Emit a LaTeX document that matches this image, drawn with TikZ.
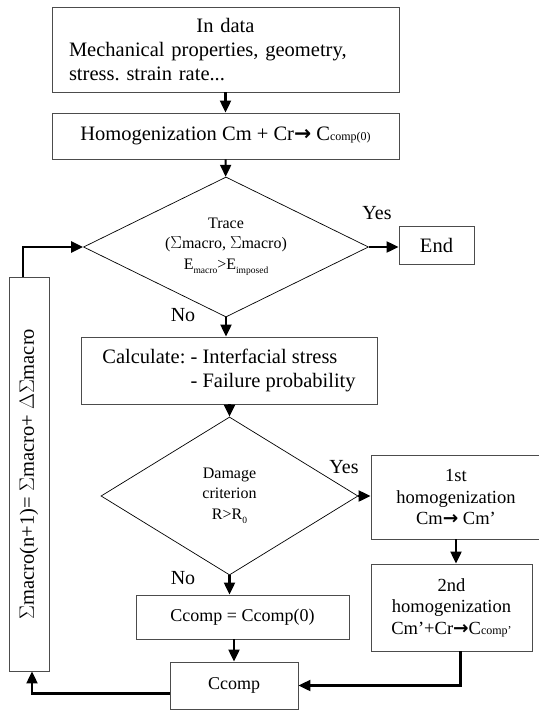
\documentclass[tikz,border=0pt]{standalone}
\usepackage{fontspec}
\setmainfont{Liberation Serif}
\newfontfamily\arwfont{DejaVu Sans}
\usetikzlibrary{shapes.geometric,arrows.meta}
\frenchspacing
\newcommand{\arw}{{\arwfont\bfseries →}}
\newcommand{\lowsub}[1]{\raisebox{-4.5pt}{\fontsize{9.5}{10}\selectfont #1}}
\newcommand{\smallsub}[1]{{\fontsize{12}{12}\selectfont #1}}
\tikzset{
  box/.style={draw=black!70, line width=0.9pt, inner sep=0pt, align=center,
    font=\fontsize{20.5}{24}\selectfont},
  homogbox/.style={box, font=\fontsize{18.5}{21.5}\selectfont},
  decision/.style={diamond, aspect=2, draw, line width=0.7pt, inner sep=0pt, align=center,
    font=\fontsize{16}{20.5}\selectfont},
  answer/.style={font=\fontsize{20}{24}\selectfont},
  flow/.style={line width=2.2pt, -{Triangle[length=12pt,width=11pt]}}
}
\begin{document}
\begin{tikzpicture}[x=1pt,y=-1pt]
        \useasboundingbox (0,0) rectangle (538,711);
        %% main column
        \node[box, minimum width=347pt, minimum height=85pt, text width=313pt, align=left]
            (indata) at (225.5,49.5)
            {\hspace*{\fill}In data\hspace*{\fill}\null\\Mechanical properties, geometry,\\stress. strain rate...};
        \node[box, minimum width=347pt, minimum height=46pt] (homog) at (225.5,136)
            {Homogenization Cm + Cr\arw{} C\smallsub{comp(0)}};
        \node[decision, minimum width=285pt, minimum height=140pt] (trace) at (226,247)
            {Trace\\($\Sigma$macro, $\Sigma$macro)\\E\lowsub{macro}>E\lowsub{imposed}};
        \node[box, minimum width=75pt, minimum height=38pt] (stop) at (436.5,245) {End};
        \node[box, minimum width=296pt, minimum height=67pt] (calc) at (229,370.5)
            {\begin{tabular}{@{}l@{ }l@{}}Calculate: & - Interfacial stress\\ & - Failure probability\end{tabular}};
        \node[decision, minimum width=257pt, minimum height=158pt] (damage) at (229.5,496)
            {Damage\\criterion\\R>R\lowsub{0}};
        %% damage branch
        \node[homogbox, minimum width=170pt, minimum height=84pt] (first) at (456,497)
            {1st\\homogenization\\Cm\arw{} Cm’};
        \node[homogbox, minimum width=161pt, minimum height=87pt] (second) at (451.5,607.5)
            {2nd\\homogenization\\Cm’+Cr\arw{}C\smallsub{comp’}};
        %% no damage
        \node[box, minimum width=213pt, minimum height=44pt, font=\fontsize{18}{21}\selectfont]
            (keep) at (242.5,617) {Ccomp = Ccomp(0)};
        \node[box, minimum width=128pt, minimum height=47pt, font=\fontsize{18}{21}\selectfont]
            (ccomp) at (234,685.5) {Ccomp};
        %% loop back
        \node[box, minimum width=40pt, minimum height=394pt] (update) at (29,474)
            {\rotatebox{90}{$\Sigma$macro(n+1)= $\Sigma$macro+ $\Delta\Sigma$macro}};
        %% labels
        \node[answer] (yes1) at (377,213) {Yes};
        \node[answer] (no1) at (183,315) {No};
        \node[answer] (yes2) at (344,467) {Yes};
        \node[answer] (no2) at (183,578) {No};
        %% connectors
        \draw[flow] (indata) -- (homog);
        \draw[flow] (homog) -- (trace);
        \draw[flow] (trace.east) -- (stop.west |- trace.east);
        \draw[flow] (trace.south) -- (trace.south |- calc.north);
        \draw[flow] (calc.south -| damage.north) -- (damage.north);
        \draw[flow] (damage.east) -- (damage.east -| first.west);
        \draw[flow] (first.south) -- (first.south |- second.north);
        \draw[flow] (damage.south) -- (damage.south |- keep.north);
        \draw[flow] (keep.south -| ccomp.north) -- (ccomp.north);
        \draw[flow] ([xshift=9pt]second.south) |- (ccomp.east);
        \draw[flow] ([yshift=-8pt]ccomp.west) -| ([xshift=3pt]update.south);
        \draw[flow] ([xshift=-6pt]update.north) |- (trace.west);
\end{tikzpicture}
\end{document}
